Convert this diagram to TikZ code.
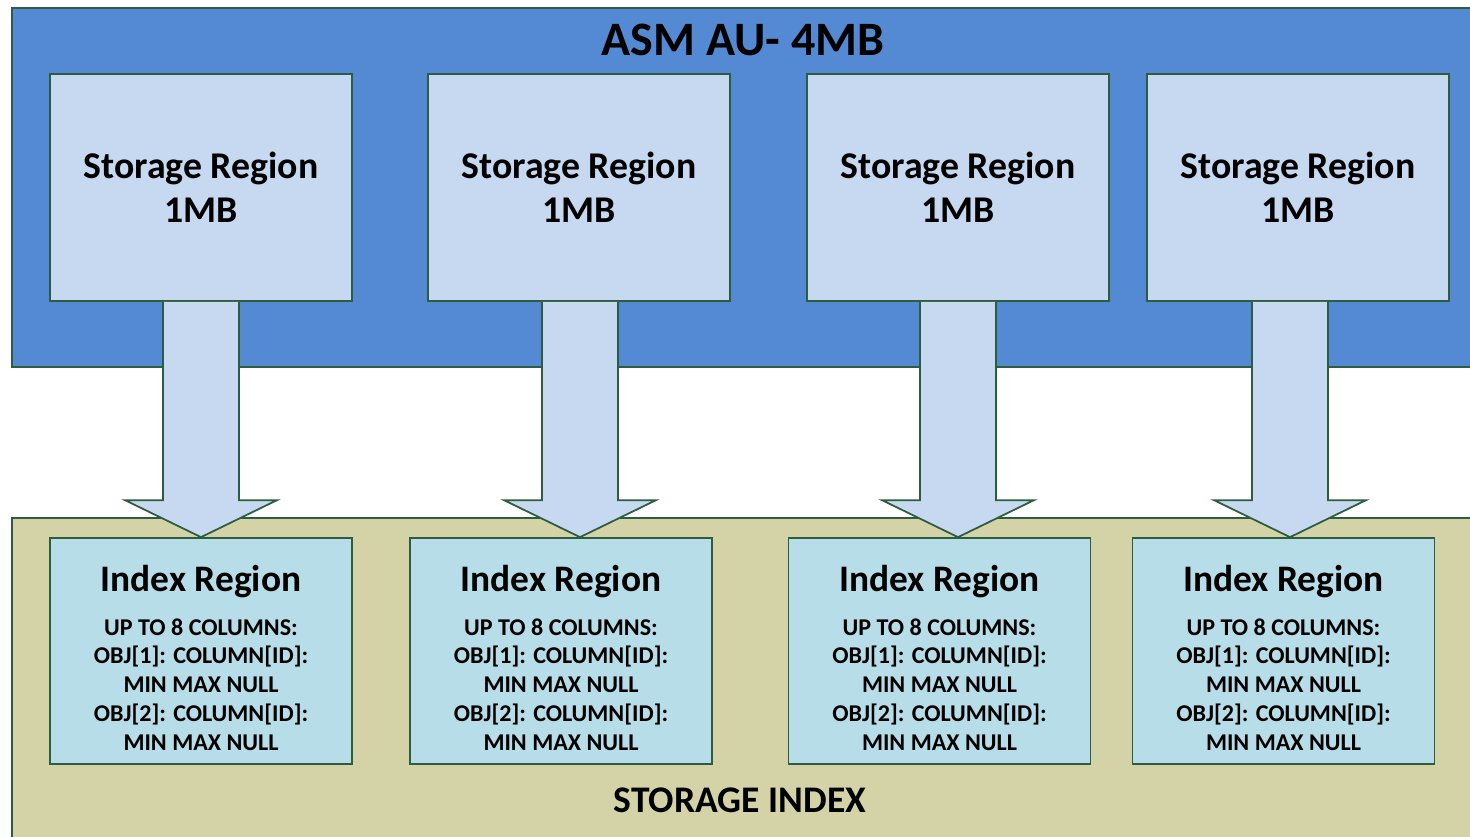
\documentclass[tikz,border=0pt]{standalone}
\usepackage{fontspec}
\setmainfont{Carlito}
\usetikzlibrary{calc}
\definecolor{AuBlue}{HTML}{5489D4}
\definecolor{RegLight}{HTML}{C6D9F0}
\definecolor{IdxTan}{HTML}{D4D3A8}
\definecolor{IdxCyan}{HTML}{B7DEE8}
\definecolor{EdgeGreen}{HTML}{2E5C3E}

\begin{document}
\begin{tikzpicture}[x=0.02cm,y=-0.02cm,
  frame/.style={draw=EdgeGreen,line width=1pt},
  region/.style={frame,fill=RegLight,minimum width=6.04cm,minimum height=4.54cm,
    inner sep=0pt,align=center,font=\bfseries\fontsize{21.5}{25}\selectfont},
  idxbox/.style={frame,fill=IdxCyan,minimum width=6.04cm,minimum height=4.52cm,
    inner sep=0pt,align=center,font=\bfseries\fontsize{13.7}{16.4}\selectfont},
  blockarr/.style={frame,fill=RegLight,line join=miter},
  caption/.style={font=\bfseries\fontsize{27.3}{30}\selectfont}
]
\clip (0,0) rectangle (1470,836);
% containers
\draw[frame,fill=AuBlue] (12,8) rectangle (1480,367);
\draw[frame,fill=IdxTan] (12,518) rectangle (1480,850);
\node[caption] (au) at (743,40) {ASM AU- 4MB};
\node[caption,font=\bfseries\fontsize{21.4}{25}\selectfont] (si) at (740,800) {STORAGE INDEX};
% storage regions
\node[region] (s1) at (201,187.5) {Storage Region\\1MB};
\node[region] (s2) at (579,187.5) {Storage Region\\1MB};
\node[region] (s3) at (958,187.5) {Storage Region\\1MB};
\node[region] (s4) at (1298,187.5) {Storage Region\\1MB};
% index regions
\foreach \n/\x in {1/201,2/561,3/939.5,4/1283.5}
  \node[idxbox] (i\n) at (\x,651) {\rule{0pt}{23pt}{\fontsize{21.3}{25}\selectfont Index Region}\\[8.2pt]
    UP TO 8 COLUMNS:\\OBJ[1]: COLUMN[ID]:\\MIN MAX NULL\\OBJ[2]: COLUMN[ID]:\\MIN MAX NULL};
% block arrows
\foreach \n/\dx in {1/0,2/1,3/0,4/-8}{
  \coordinate (top\n) at ($(s\n.south)+(\dx,0)$);
  \coordinate (tip\n) at (top\n |- i\n.north);
  \draw[blockarr] ($(top\n)+(-38,0)$) -- ($(tip\n)+(-38,-37)$) -- ($(tip\n)+(-76,-37)$)
    -- (tip\n) -- ($(tip\n)+(76,-37)$) -- ($(tip\n)+(38,-37)$) -- ($(top\n)+(38,0)$);
}
\end{tikzpicture}
\end{document}
